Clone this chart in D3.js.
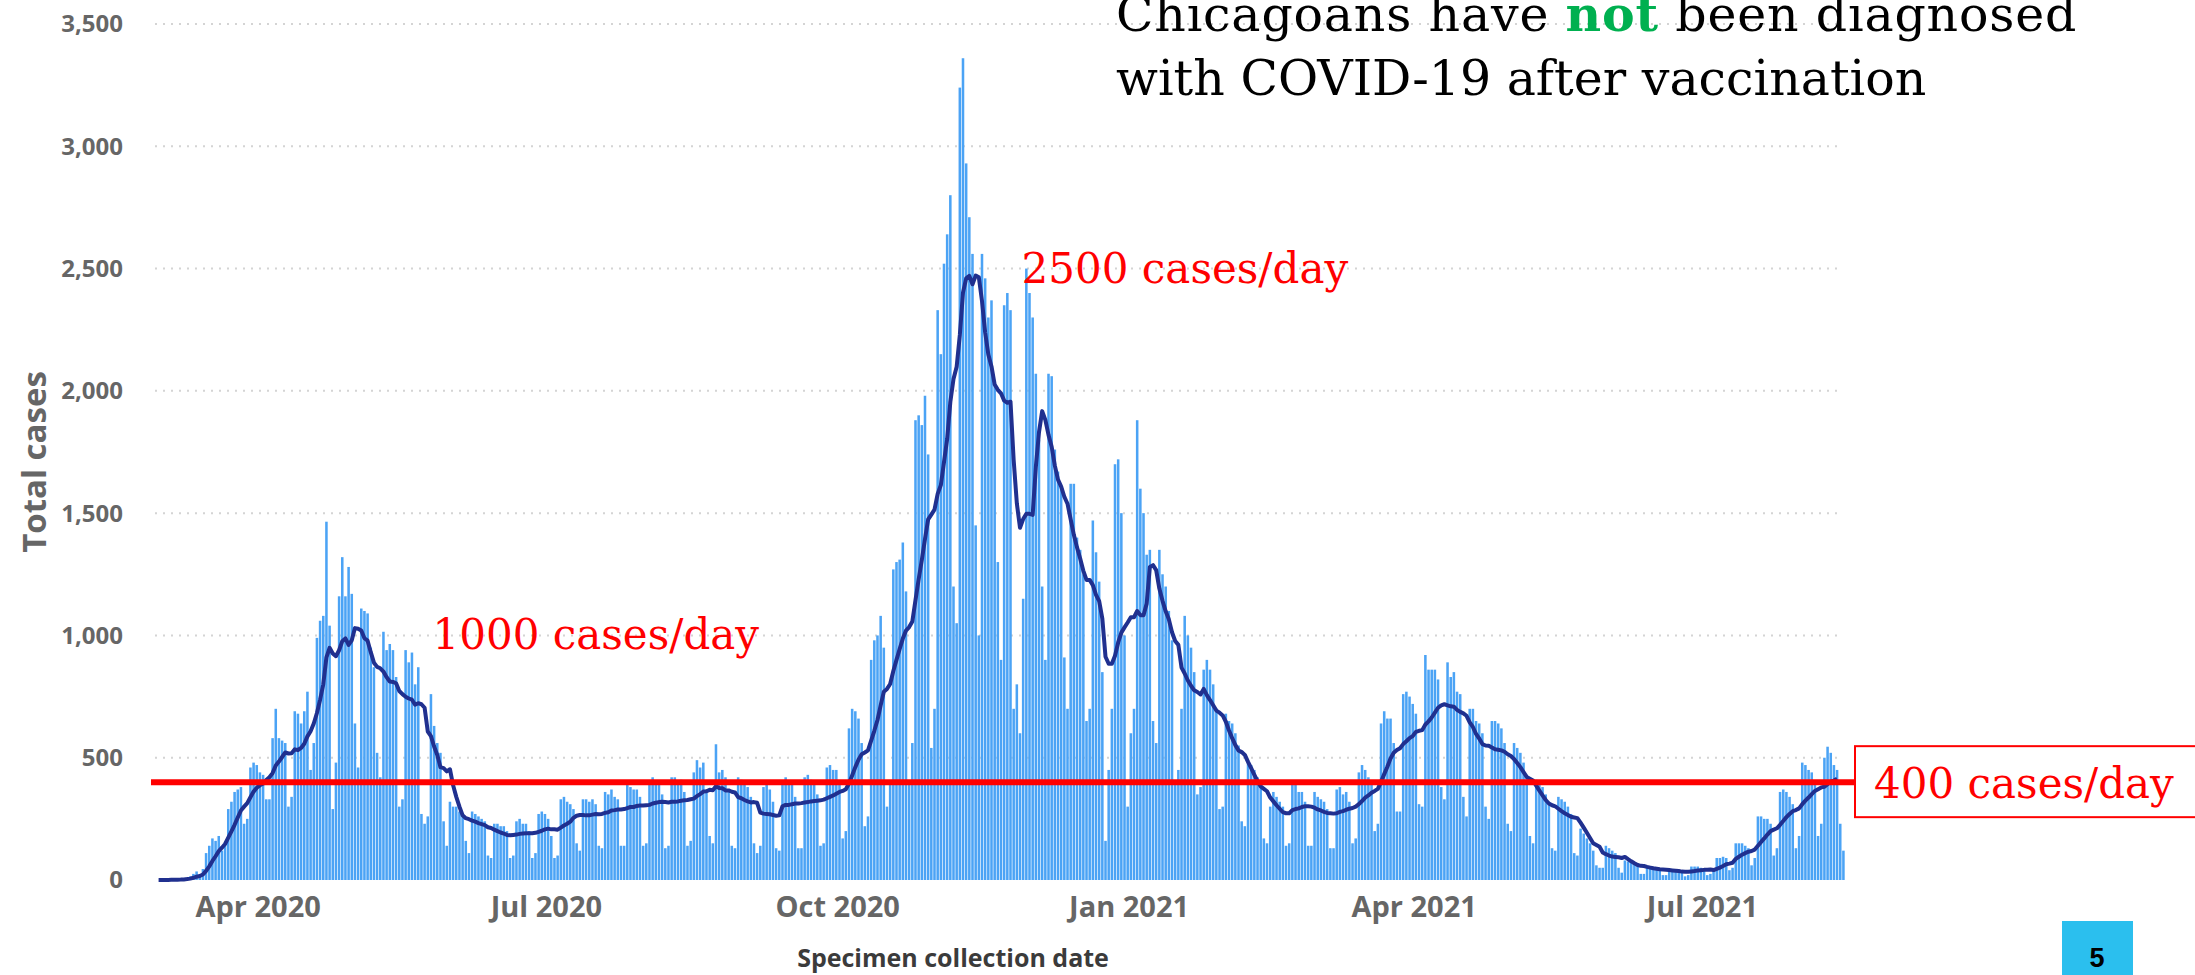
<!DOCTYPE html>
<html>
<head>
<meta charset="utf-8">
<script src="https://cdn.jsdelivr.net/npm/d3@7"></script>
<style>
  html, body { margin: 0; padding: 0; background: #fff; }
  svg { display: block; }
</style>
</head>
<body>
<svg id="chart" width="2195" height="975"></svg>
<script>
// Daily COVID-19 cases in Chicago by specimen collection date.
// One array per month, first value is the 1st of the month.
var mar2020 = [0,0,1,1,2,3,2, 2,6,10,15,25,35,20, 45,110,140,170,160,180,120, 150,290,320,360,370,380,230, 250,460,480];
var apr2020 = [470,440,430,330, 330,580,700,580,570,560,300, 340,690,680,640,690,770,450, 560,990,1060,1080,1465,1040,290, 480,1160,1320,1160,1280];
var may2020 = [1170,640, 460,1110,1100,1090,950,870,520, 420,1015,940,965,940,830,300, 330,940,890,930,800,870,270, 230,260,760,630,560,520,240, 140];
var jun2020 = [320,300,300,280,270,160, 110,280,270,260,250,240,100, 90,230,230,220,220,200,90, 100,240,250,230,230,200,90, 110,270,280];
var jul2020 = [270,250,180,90, 100,330,340,320,310,290,150, 120,330,330,320,330,310,140, 130,360,350,370,340,330,140, 140,390,380,370,370,340];
var aug2020 = [140, 150,400,420,390,390,350,130, 140,420,420,400,410,360,140, 160,440,490,460,480,370,180, 150,555,440,450,420,370,140, 130,420];
var sep2020 = [410,400,380,340,150, 110,140,380,390,370,320,130, 120,400,420,390,390,340,130, 130,420,430,410,400,350,140, 150,460,470,450];
var oct2020 = [450,400,170, 200,620,700,690,660,560,220, 260,900,980,1000,1080,950,300, 400,1270,1300,1310,1380,1180,400, 560,1880,1900,1860,1980,1740,540];
var nov2020 = [700,2330,2150,2520,2640,2800,1200, 1050,3240,3360,2930,2710,2560,1450, 1000,2560,2460,2300,2370,2040,1300, 900,2350,2400,2330,700,800,600, 1150,2500];
var dec2020 = [2400,2300,2070,1800,1200, 900,2070,2060,1760,1670,1600,910, 700,1620,1620,1400,1350,1250,650, 700,1470,1340,1220,850,160,450, 700,1700,1720,1500,1000];
var jan2021 = [300,600, 700,1880,1600,1500,1330,1350,650, 560,1350,1250,1200,1100,980,400, 450,700,1080,1000,950,850,350, 380,860,900,860,800,700,290, 300];
var feb2021 = [680,650,640,600,550,240, 220,480,470,450,420,400,170, 150,300,360,340,320,300,140, 150,390,390,360,360,320,140, 140];
var mar2021 = [360,340,330,320,290,130, 130,370,380,350,360,320,150, 170,440,470,450,420,400,200, 230,640,690,660,660,560,280, 280,760,770,750];
var apr2021 = [720,680,310, 300,920,860,860,860,820,380, 330,890,830,850,770,760,340, 260,700,700,650,640,600,300, 250,650,650,640,620,560];
var may2021 = [230, 200,560,540,520,480,420,180, 150,410,400,380,350,320,130, 120,340,330,320,300,270,110, 100,210,190,170,150,120,60, 50,50];
var jun2021 = [140,130,120,110,50, 30,80,75,70,65,60,25, 25,55,55,50,50,45,20, 20,45,45,40,40,30,15, 20,55,55,55];
var jul2021 = [50,40,20, 25,40,90,90,95,90,40, 50,150,150,150,140,130,60, 90,260,260,250,250,230,100, 130,360,370,360,340,310,130];
var aug2021 = [180,480,470,450,440,400,180, 230,500,545,520,470,450,230, 120];

var firstDay = new Date(2020, 2, 1);
var avgLastDay = new Date(2021, 7, 13);   // last two days are incomplete, no average drawn

var yTicks = [0, 500, 1000, 1500, 2000, 2500, 3000, 3500];
var xTickDates = [new Date(2020, 3, 1), new Date(2020, 6, 1), new Date(2020, 9, 1),
                  new Date(2021, 0, 1), new Date(2021, 3, 1), new Date(2021, 6, 1)];
var xTickLabels = ["Apr 2020", "Jul 2020", "Oct 2020", "Jan 2021", "Apr 2021", "Jul 2021"];

var threshold = 400;
var thresholdLabel = "400 cases/day";
var peakNotes = [
  {text: "1000 cases/day", value: 1000, date: new Date(2020, 4, 27)},
  {text: "2500 cases/day", value: 2500, date: new Date(2020, 10, 29)}
];

// flatten months into day rows
var counts = [].concat(mar2020, apr2020, may2020, jun2020, jul2020, aug2020, sep2020, oct2020, nov2020, dec2020,
                       jan2021, feb2021, mar2021, apr2021, may2021, jun2021, jul2021, aug2021);
var days = counts.map(function(c, i) {
  return {date: d3.timeDay.offset(firstDay, i), cases: c};
});

// trailing 7 day average
days.forEach(function(d, i) {
  var win = days.slice(Math.max(0, i - 6), i + 1);
  d.avg = d3.mean(win, function(w) { return w.cases; });
});

var svg = d3.select("#chart");

var x = d3.scaleTime()
  .domain([firstDay, d3.timeDay.offset(firstDay, counts.length)])
  .range([157, 1845]);
var y = d3.scaleLinear().domain([0, 3500]).range([880, 24]);
var dayW = x(d3.timeDay.offset(firstDay, 1)) - x(firstDay);

var axisFont = "'Segoe UI', 'Open Sans', sans-serif";
var serif = "'DejaVu Serif', 'Liberation Serif', serif";

// dotted gridlines
svg.append("g").selectAll("line")
  .data(yTicks.filter(function(t) { return t > 0; }))
  .enter().append("line")
  .attr("x1", 155).attr("x2", 1842)
  .attr("y1", function(d) { return y(d); })
  .attr("y2", function(d) { return y(d); })
  .attr("stroke", "#d4d4d4")
  .attr("stroke-width", 2)
  .attr("stroke-dasharray", "2,6");

// y tick labels
svg.append("g").selectAll("text")
  .data(yTicks)
  .enter().append("text")
  .attr("x", 123)
  .attr("y", function(d) { return y(d); })
  .attr("dy", "0.35em")
  .attr("text-anchor", "end")
  .style("font-family", axisFont)
  .style("font-weight", 700)
  .style("font-size", "24px")
  .attr("fill", "#666")
  .text(d3.format(","));

// x tick labels
svg.append("g").selectAll("text")
  .data(xTickDates)
  .enter().append("text")
  .attr("x", function(d) { return x(d) + 3; })
  .attr("y", 917)
  .attr("text-anchor", "middle")
  .style("font-family", axisFont)
  .style("font-weight", 700)
  .style("font-size", "29px")
  .attr("fill", "#666")
  .text(function(d, i) { return xTickLabels[i]; });

// axis titles
svg.append("text")
  .attr("transform", "translate(46,462) rotate(-90)")
  .attr("text-anchor", "middle")
  .style("font-family", axisFont)
  .style("font-weight", 700)
  .style("font-size", "33px")
  .attr("fill", "#666")
  .text("Total cases");

svg.append("text")
  .attr("x", 953).attr("y", 967)
  .attr("text-anchor", "middle")
  .style("font-family", axisFont)
  .style("font-weight", 700)
  .style("font-size", "25px")
  .attr("fill", "#3b3b3b")
  .text("Specimen collection date");

// daily bars
svg.append("g").selectAll("rect")
  .data(days)
  .enter().append("rect")
  .attr("x", function(d) { return x(d.date) + dayW * 0.1; })
  .attr("width", dayW * 0.8)
  .attr("y", function(d) { return y(d.cases); })
  .attr("height", function(d) { return y(0) - y(d.cases); })
  .attr("fill", "#4ba3f5");

// 7 day average line
var line = d3.line()
  .x(function(d) { return x(d.date) + dayW / 2; })
  .y(function(d) { return y(d.avg); });

svg.append("path")
  .datum(days.filter(function(d) { return d.date <= avgLastDay; }))
  .attr("d", line)
  .attr("fill", "none")
  .attr("stroke", "#20308f")
  .attr("stroke-width", 4)
  .attr("stroke-linejoin", "round");

// 400/day reference line and box
svg.append("line")
  .attr("x1", 151).attr("x2", 1855)
  .attr("y1", y(threshold)).attr("y2", y(threshold))
  .attr("stroke", "#ff0000")
  .attr("stroke-width", 6);

svg.append("rect")
  .attr("x", 1855).attr("y", y(threshold) - 36)
  .attr("width", 360).attr("height", 71)
  .attr("fill", "#fff")
  .attr("stroke", "#ff0000")
  .attr("stroke-width", 2);

svg.append("text")
  .attr("x", 1874).attr("y", y(threshold) + 16)
  .style("font-family", serif)
  .style("font-size", "42px")
  .attr("fill", "#ff0000")
  .text(thresholdLabel);

svg.append("g").selectAll("text")
  .data(peakNotes)
  .enter().append("text")
  .attr("x", function(d) { return x(d.date); })
  .attr("y", function(d) { return y(d.value) + 14; })
  .style("font-family", serif)
  .style("font-size", "42px")
  .attr("fill", "#ff0000")
  .text(function(d) { return d.text; });

// slide title, top line runs off the page as in the slide
var title = svg.append("text")
  .style("font-family", serif)
  .style("font-size", "49px")
  .attr("fill", "#000");
var t1 = title.append("tspan").attr("x", 1116).attr("y", 31).style("letter-spacing", "0.8px");
t1.append("tspan").text("Chicagoans have ");
t1.append("tspan").attr("fill", "#00b050").style("font-weight", 700).text("not");
t1.append("tspan").text(" been diagnosed");
title.append("tspan").attr("x", 1116).attr("y", 95).text("with COVID-19 after vaccination");

// slide number
svg.append("rect")
  .attr("x", 2062).attr("y", 921)
  .attr("width", 71).attr("height", 60)
  .attr("fill", "#2bbfee");
svg.append("text")
  .attr("x", 2097).attr("y", 967)
  .attr("text-anchor", "middle")
  .style("font-family", "'Liberation Sans', Arial, sans-serif")
  .style("font-weight", 700)
  .style("font-size", "27px")
  .attr("fill", "#000")
  .text("5");
</script>
</body>
</html>
